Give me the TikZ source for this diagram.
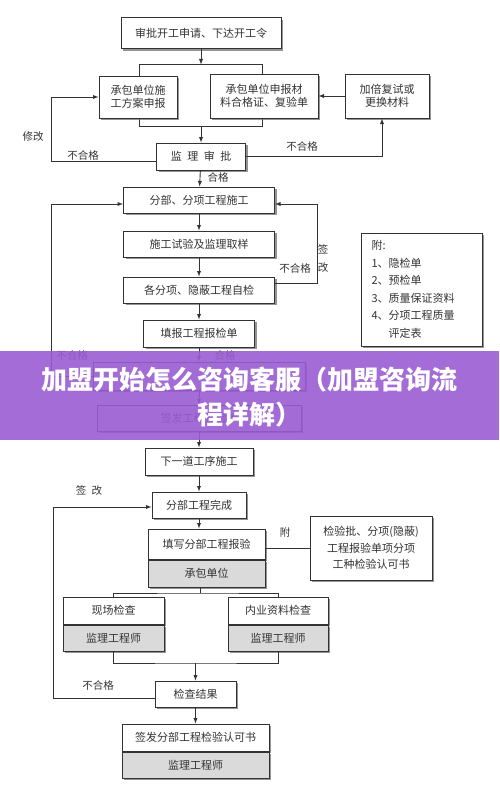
\documentclass[tikz,border=0pt]{standalone}
\usepackage{fontspec}
\setmainfont{Noto Sans CJK SC}
\usetikzlibrary{arrows,positioning,shadows}
\definecolor{boxline}{HTML}{333333}
\definecolor{graypart}{HTML}{DADADA}
\definecolor{banner}{HTML}{9A5CD2}

\begin{document}
\begin{tikzpicture}[x=1pt, y=-1pt, font=\fontsize{11}{13}\selectfont, text=boxline,
    box/.style={draw=boxline, line width=1pt, fill=white, align=center, inner sep=2pt,
      drop shadow={shadow xshift=2pt, shadow yshift=-2pt, fill=black!60, opacity=0.7}},
    greybox/.style={box, fill=graypart},
    arr/.style={-latex, line width=0.9pt, draw=boxline},
    link/.style={line width=0.9pt, draw=boxline},
    lbl/.style={font=\fontsize{10.5}{12}\selectfont, inner sep=1pt}]
    \useasboundingbox (0,0) rectangle (499,792);

    % Application and submissions
    \node[draw=boxline, line width=1pt, minimum width=123pt, minimum height=61pt] (brk) at (201,95.5) {};
    \node[box, minimum width=160pt, minimum height=31pt] (top) at (201,33.5) {审批开工申请、下达开工令};
    \node[box, minimum width=78pt, minimum height=42pt] (fangan) at (138,97) {承包单位施\\工方案申报};
    \node[box, minimum width=108pt, minimum height=44pt] (cailiao) at (264,96) {承包单位申报材\\料合格证、复验单};
    \node[box, minimum width=84pt, minimum height=44pt] (jiabei) at (387,96) {加倍复试或\\更换材料};
    \node[box, minimum width=89pt, minimum height=27pt] (shenpi) at (201,156.5) {监\hspace{0.5em}理\hspace{0.5em}审\hspace{0.5em}批};

    % Construction steps
    \node[box, minimum width=151pt, minimum height=26pt] (fenbu) at (199,200) {分部、分项工程施工};
    \node[box, minimum width=151pt, minimum height=26pt] (shiyan) at (199,244) {施工试验及监理取样};
    \node[box, minimum width=151pt, minimum height=26pt] (zijian) at (199,290) {各分项、隐蔽工程自检};
    \node[box, minimum width=111pt, minimum height=27pt] (tianbao) at (199,333.5) {填报工程报检单};
    \node[box, minimum width=212pt, minimum height=28pt] (hidden) at (199,376) {};
    \node[box, minimum width=204pt, minimum height=26pt] (qianfa) at (199,418) {签发工程报验单};
    \node[box, minimum width=108pt, minimum height=27pt] (xiayi) at (199,461.5) {下一道工序施工};
    \node[box, minimum width=121pt, minimum height=113pt, text width=100pt, align=left,
      font=\fontsize{11}{17.5}\selectfont] (fu) at (421.5,289.5)
      {附:\\1、隐检单\\2、预检单\\3、质量保证资料\\4、分项工程质量\\\phantom{4、}评定表};

    % Sub-project acceptance
    \node[box, minimum width=94pt, minimum height=26pt] (wancheng) at (199,505) {分部工程完成};
    \node[box, minimum width=117pt, minimum height=30pt] (txa) at (206.5,544) {填写分部工程报验};
    \node[greybox, minimum width=117pt, minimum height=27pt, below=0pt of txa] (txb) {承包单位};
    \node[box, minimum width=122pt, minimum height=64pt, font=\fontsize{11}{16.5}\selectfont] (jianyan) at (371,548)
      {检验批、分项(隐蔽)\\工程报验单项分项\\工种检验认可书};
    \node[box, minimum width=101pt, minimum height=27pt] (xca) at (113.5,610.5) {现场检查};
    \node[greybox, minimum width=101pt, minimum height=26pt, below=0pt of xca] (xcb) {监理工程师};
    \node[box, minimum width=100pt, minimum height=27pt] (nya) at (278,610.5) {内业资料检查};
    \node[greybox, minimum width=100pt, minimum height=26pt, below=0pt of nya] (nyb) {监理工程师};
    \node[box, minimum width=81pt, minimum height=26pt] (jiancha) at (195.5,694) {检查结果};
    \node[box, minimum width=147pt, minimum height=27pt] (qfa) at (195.5,737.5) {签发分部工程检验认可书};
    \node[greybox, minimum width=147pt, minimum height=26pt, below=0pt of qfa] (qfb) {监理工程师};

    % Connections
    \draw[arr] (top) -- (brk);
    \draw[arr] (brk) -- (shenpi);
    \draw[arr] (jiabei) -- (cailiao);
    \draw[arr] (shenpi.east) -| ([xshift=-5pt]jiabei.south);
    \draw[arr] ([yshift=-5pt]shenpi.west) -- ++(-105,0) |- (fangan.west);
    \draw[arr] (shenpi) -- (fenbu);
    \draw[arr] (fenbu) -- (shiyan);
    \draw[arr] (shiyan) -- (zijian);
    \draw[arr] (zijian) -- (tianbao);
    \draw[arr] ([yshift=7pt]zijian.east) -- ++(42,0) |- ([yshift=-4pt]fenbu.east);
    \draw[arr] (tianbao) -- (hidden);
    \draw[arr] (hidden.west) -- ++(-41,0) |- ([yshift=-4pt]fenbu.west);
    \draw[arr] (hidden) -- (qianfa);
    \draw[arr] (qianfa) -- (xiayi);
    \draw[arr] (xiayi) -- (wancheng);
    \draw[arr] (wancheng.south) -- (wancheng.south |- txa.north);
    \draw[link] (jianyan.west) -- (jianyan.west -| txa.east);
    \coordinate (fork1) at (200,593);
    \draw[link] (fork1 |- txb.south) -- (fork1);
    \draw[link] (xca.north) |- (fork1) -| (nya.north);
    \coordinate (fork2) at (195.5,663);
    \draw[link] (xcb.south) |- (fork2) -| (nyb.south);
    \draw[arr] (fork2) -- (jiancha);
    \draw[arr] ([yshift=-4pt]jiancha.west) -- ++(-101,0) |- ([yshift=-2pt]wancheng.west);
    \draw[arr] (jiancha) -- (qfa);

    % Labels
    \node[lbl] (l1) at (302,146) {不合格};
    \node[lbl] (l2) at (33,137) {修改};
    \node[lbl] (l3) at (83,155) {不合格};
    \node[lbl] (l4) at (218,177) {合格};
    \node[lbl] (l5) at (295,268) {不合格};
    \node[lbl, align=center, font=\fontsize{10.5}{18}\selectfont] (l6) at (323,259) {签\\改};
    \node[lbl] (l7) at (72,355) {不合格};
    \node[lbl] (l8) at (225,355) {合格};
    \node[lbl] (l9) at (89,490) {签\hspace{0.5em}改};
    \node[lbl] (l10) at (285,533) {附};
    \node[lbl] (l11) at (98,685) {不合格};

    % Banner
    \node[fill=banner, fill opacity=0.9, text opacity=1, minimum width=499pt, minimum height=89pt,
      inner sep=0pt] (band) at (249.5,395.5) {};
    \node[text=white, align=center, font=\bfseries\fontsize{26}{35}\selectfont] (title) at (249.5,397.5)
      {加盟开始怎么咨询客服（加盟咨询流\\程详解）};
\end{tikzpicture}
\end{document}
